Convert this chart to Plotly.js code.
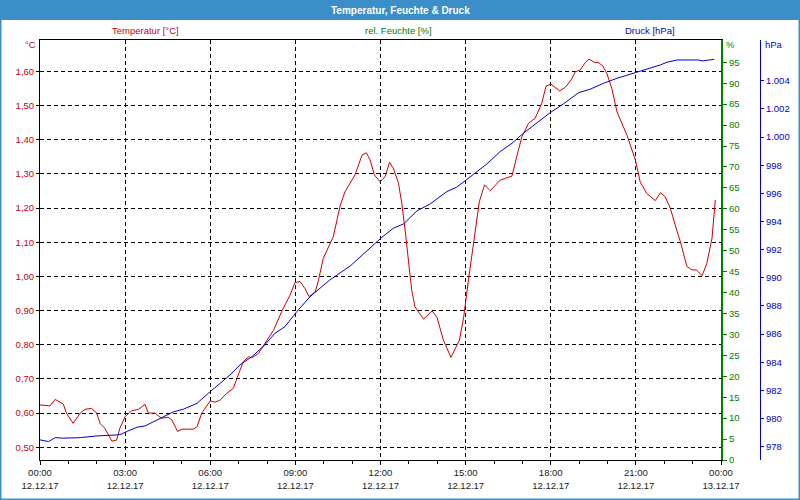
<!DOCTYPE html>
<html>
<head>
<meta charset="utf-8">
<script src="https://cdn.plot.ly/plotly-3.0.1.min.js"></script>
<style>
html,body{margin:0;padding:0;background:#fff;}
#chart{width:800px;height:500px;}
</style>
</head>
<body>
<div id="chart"></div>
<script>
// ---- data ----
const day = "2017-12-12";
const tempTimes = ["00:00","00:21","00:32","00:49","00:56","01:10","01:25","01:35","01:49","02:00","02:07","02:17","02:32","02:42","02:49","03:00","03:14","03:28","03:42","03:49","04:03","04:17","04:31","04:39","04:51","05:00","05:24","05:32","05:42","06:00","06:10","06:21","06:35","06:49","06:56","07:10","07:21","07:28","07:42","07:56","08:14","08:31","08:49","08:59","09:10","09:20","09:29","09:42","09:49","09:59","10:13","10:20","10:28","10:35","10:45","10:56","11:06","11:21","11:30","11:38","11:47","11:59","12:10","12:19","12:27","12:38","12:45","12:52","12:59","13:06","13:13","13:31","13:49","13:59","14:13","14:29","14:47","14:56","15:06","15:20","15:29","15:40","15:52","15:59","16:13","16:24","16:38","16:48","16:59","17:13","17:27","17:41","17:50","18:00","18:19","18:31","18:43","18:52","19:02","19:13","19:21","19:32","19:41","19:50","19:59","20:09","20:20","20:41","20:59","21:09","21:23","21:41","21:52","22:02","22:13","22:23","22:34","22:48","22:59","23:08","23:20","23:30","23:41","23:48"];
const tempValues = [0.624,0.621,0.640,0.627,0.600,0.570,0.600,0.611,0.614,0.600,0.570,0.556,0.518,0.521,0.556,0.590,0.607,0.611,0.626,0.600,0.600,0.585,0.588,0.580,0.546,0.553,0.553,0.560,0.600,0.636,0.632,0.638,0.658,0.673,0.700,0.751,0.765,0.762,0.775,0.804,0.843,0.897,0.946,0.982,0.985,0.965,0.941,0.955,0.990,1.053,1.092,1.116,1.165,1.209,1.248,1.273,1.297,1.355,1.362,1.341,1.297,1.277,1.292,1.334,1.317,1.273,1.214,1.136,1.038,0.960,0.911,0.875,0.899,0.882,0.814,0.763,0.814,0.882,0.990,1.136,1.219,1.268,1.251,1.261,1.282,1.287,1.294,1.350,1.409,1.448,1.463,1.507,1.557,1.563,1.543,1.554,1.575,1.599,1.604,1.626,1.636,1.627,1.626,1.616,1.593,1.551,1.482,1.414,1.341,1.277,1.243,1.222,1.245,1.233,1.199,1.151,1.102,1.029,1.019,1.019,1.002,1.038,1.112,1.224];

const pressTimes = ["00:00","00:18","00:32","00:49","01:25","02:00","02:42","02:53","03:03","03:25","03:42","04:00","04:21","04:42","05:03","05:32","06:00","06:24","06:42","07:03","07:28","07:52","08:17","08:38","09:03","09:31","10:13","10:56","11:38","12:03","12:27","12:49","13:17","13:45","14:20","14:41","15:03","15:17","15:45","16:13","16:38","17:02","17:31","17:59","18:27","18:59","19:23","19:52","20:20","20:55","21:23","21:52","22:06","22:27","23:13","23:20","23:46"];
const pressValues = [978.48,978.36,978.64,978.60,978.64,978.76,978.83,978.90,979.07,979.38,979.47,979.78,980.13,980.47,980.66,981.08,981.91,982.62,983.10,983.81,984.40,985.11,986.06,986.53,987.59,988.66,989.85,990.84,992.10,992.88,993.52,993.83,994.75,995.25,996.12,996.44,997.00,997.38,998.09,998.97,999.56,1000.27,1000.99,1001.74,1002.36,1003.16,1003.40,1003.83,1004.18,1004.54,1004.82,1005.13,1005.32,1005.48,1005.48,1005.41,1005.53];

const humidityTicks = [0,5,10,15,20,25,30,35,40,45,50,55,60,65,70,75,80,85,90,95];
const pressureTicks = [978,980,982,984,986,988,990,992,994,996,998,1000,1002,1004];

const chartTitle = "Temperatur, Feuchte & Druck";
const tempTitle = "Temperatur [°C]";
const humTitle = "rel. Feuchte [%]";
const pressTitle = "Druck [hPa]";

// ---- build ----
const FONT = "Liberation Sans";
const RED = "#cc0000", GREEN = "#008000", BLUE = "#0000cc", BAR = "#3b8ec8";
const toX = t => day + " " + t;

// plot area: x 40..721 px, y 40..460 px ; paper = 40..790 x, 40..460 y
const W = 750, H = 420;
const px = v => (v - 40) / W;
const py = v => (460 - v) / H;

const traces = [
  {type:"scatter", mode:"lines", x: tempTimes.map(toX), y: tempValues, yaxis:"y",
   line:{color:RED, width:1}, hoverinfo:"skip", showlegend:false},
  {type:"scatter", mode:"lines", x: [], y: [], yaxis:"y2", hoverinfo:"skip", showlegend:false},
  {type:"scatter", mode:"lines", x: pressTimes.map(toX), y: pressValues, yaxis:"y3",
   line:{color:BLUE, width:1}, hoverinfo:"skip", showlegend:false}
];

const layout = {
  width:800, height:500,
  margin:{l:40, r:10, t:40, b:40, pad:0},
  paper_bgcolor:"#ffffff", plot_bgcolor:"#ffffff",
  separators:",.",
  showlegend:false,
  font:{family:FONT, size:9, color:"#000"},
  xaxis:{
    type:"date", domain:[0, 681/W],
    range:[day+" 00:00", "2017-12-13 00:00"],
    dtick:3*3600000, tick0:day+" 00:00",
    tickformat:"%H:%M<br>%d.%m.%y",
    ticks:"outside", ticklen:4, tickcolor:"#000",
    minor:{dtick:3600000, ticks:"outside", ticklen:3, tickcolor:"#000", showgrid:false},
    showline:true, linecolor:"#000", linewidth:1, mirror:true,
    showgrid:true, gridcolor:"#000", gridwidth:1, griddash:"4px,3px",
    zeroline:false, tickfont:{family:FONT, size:9.5, color:"#1a1a1a"}
  },
  yaxis:{
    range:[0.4628, 1.692], dtick:0.1, tick0:0.5, tickformat:".2f",
    ticks:"outside", ticklen:3, tickcolor:"#000",
    showline:true, linecolor:"#000", linewidth:1,
    showgrid:true, gridcolor:"#000", gridwidth:1, griddash:"4px,3px",
    zeroline:false, tickfont:{family:FONT, size:9.5, color:RED}
  },
  yaxis2:{
    overlaying:"y", side:"right", anchor:"x",
    range:[0, 100.33], tickmode:"array", tickvals:humidityTicks,
    ticks:"outside", ticklen:4, tickcolor:GREEN,
    showline:true, linecolor:GREEN, linewidth:2,
    showgrid:false, zeroline:false, tickfont:{family:FONT, size:9.5, color:GREEN}
  },
  yaxis3:{
    overlaying:"y", side:"right", anchor:"free", position:(760-40)/W,
    range:[977.05, 1006.9], tickmode:"array", tickvals:pressureTicks,
    separatethousands:true,
    ticks:"outside", ticklen:3, tickcolor:BLUE,
    showline:true, linecolor:BLUE, linewidth:1,
    showgrid:false, zeroline:false, tickfont:{family:FONT, size:9.5, color:BLUE}
  },
  shapes:[
    {type:"rect", xref:"paper", yref:"paper", x0:px(0), x1:px(800), y0:py(0), y1:py(20),
     fillcolor:BAR, line:{width:0}, layer:"below"},
    {type:"rect", xref:"paper", yref:"paper", x0:px(0), x1:px(800), y0:py(0), y1:py(500),
     fillcolor:"rgba(0,0,0,0)", line:{color:BAR, width:3}, layer:"above"}
  ],
  annotations:[
    {text:"<b>"+chartTitle+"</b>", xref:"paper", yref:"paper", x:px(400), y:py(10),
     xanchor:"center", yanchor:"middle", showarrow:false, font:{family:FONT, size:10, color:"#ffffff"}},
    {text:tempTitle, xref:"paper", yref:"paper", x:px(145), y:py(30),
     xanchor:"center", yanchor:"middle", showarrow:false, font:{family:FONT, size:9.5, color:RED}},
    {text:humTitle, xref:"paper", yref:"paper", x:px(398), y:py(30),
     xanchor:"center", yanchor:"middle", showarrow:false, font:{family:FONT, size:9.5, color:GREEN}},
    {text:pressTitle, xref:"paper", yref:"paper", x:px(650), y:py(30),
     xanchor:"center", yanchor:"middle", showarrow:false, font:{family:FONT, size:9.5, color:BLUE}},
    {text:"°C", xref:"paper", yref:"paper", x:px(38), y:py(45),
     xanchor:"right", yanchor:"middle", showarrow:false, font:{family:FONT, size:9.5, color:RED}},
    {text:"%", xref:"paper", yref:"paper", x:px(724), y:py(45),
     xanchor:"left", yanchor:"middle", showarrow:false, font:{family:FONT, size:9.5, color:GREEN}},
    {text:"hPa", xref:"paper", yref:"paper", x:px(763), y:py(45),
     xanchor:"left", yanchor:"middle", showarrow:false, font:{family:FONT, size:9.5, color:BLUE}}
  ]
};

Plotly.newPlot("chart", traces, layout, {staticPlot:true, displayModeBar:false});
</script>
</body>
</html>
